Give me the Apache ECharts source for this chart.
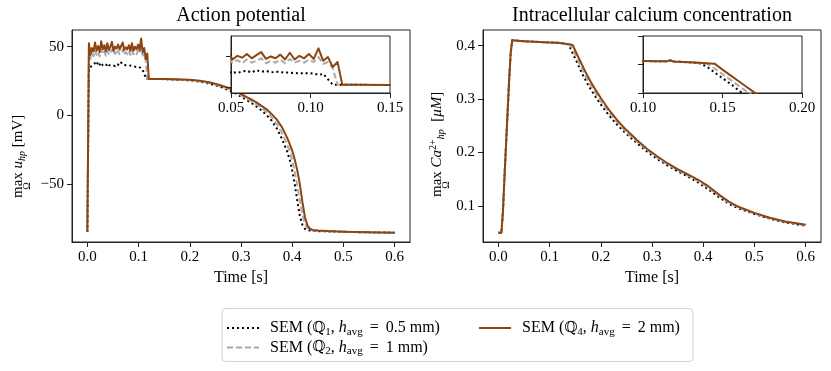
<!DOCTYPE html>
<html><head><meta charset="utf-8">
<script src="https://cdn.jsdelivr.net/npm/echarts@6/dist/echarts.min.js"></script>
<style>html,body{margin:0;padding:0;background:#fff}#c{width:831px;height:371px}</style>
</head><body><div id="c"></div>
<script>
// ---------------- DATA ----------------
const apTime = [0,0.003,0.006,0.009,0.012,0.015,0.018,0.021,0.024,0.027,0.030,0.033,0.036,0.039,0.042,0.045,0.048,0.051,0.054,0.057,0.060,0.063,0.066,0.069,0.072,0.075,0.078,0.081,0.084,0.087,0.090,0.093,0.096,0.099,0.102,0.105,0.108,0.111,0.114,0.117,0.120,
  0.13,0.15,0.17,0.20,0.22,0.24,0.26,0.27,0.28,0.29,0.30,0.31,0.32,0.33,0.34,0.35,0.36,0.37,0.38,0.39,0.395,0.40,0.405,0.41,0.415,0.42,0.425,0.43,0.435,0.44,0.45,0.47,0.50,0.55,0.60];
const apQ1 = [-84.5,33,35,36.5,35.5,38,36.5,39,37,38.5,36.5,37.5,36,38,36.5,37.5,36.5,37,36,37.5,38,36.5,38.5,37,38,36.5,37.5,36.5,37,36,36.5,35.5,36.5,35.5,36,34.5,35.5,31,26.6,26.6,26.6,
  26.6,26.4,26.1,25.5,24.6,23.0,20.8,19.4,17.8,15.9,13.7,11.5,9.2,6.6,3.8,0.3,-3.8,-9.5,-17,-26,-32,-40,-50,-62,-73,-79.5,-82.3,-83.2,-83.5,-83.7,-83.9,-84.1,-84.4,-84.8,-85.0];
const apQ2 = [-84.5,48,41,45,43,47.5,44,46,43,48,44.5,46.5,43.5,47,44,46,48,44.5,46.5,44,47,44.5,46,48,44,46,44.5,47,44,47.5,44.5,46,44.5,47,45,49,43.5,45,40,26.6,26.6,
  26.6,26.45,26.2,25.7,24.9,23.5,21.4,20.1,18.6,16.9,14.8,12.5,10.5,8.1,5.4,2.4,-1.4,-6.2,-12.7,-21,-26,-32.5,-41,-51,-62,-72,-78.5,-81.8,-82.9,-83.4,-83.7,-84.0,-84.4,-84.8,-85.0];
const apQ4 = [-84.5,52.5,44,49,46.5,53,47,50.5,46,54,48,51,46.5,52.5,47.5,50,53.5,47,50,48.5,51.5,48,50.5,53,47.5,49.5,48,51,47,52.5,47,50,48,51.5,47.5,56,46,49,41,45,26.6,
  26.6,26.5,26.3,25.9,25.2,24.0,22.0,20.8,19.4,17.8,15.8,13.5,11.8,9.6,7.0,4.5,1.0,-3.0,-8.5,-16,-20.5,-25.5,-32,-40,-50,-63,-74,-80,-82.2,-83.0,-83.4,-83.9,-84.3,-84.7,-85.0];

const caTime = [0,0.006,0.009,0.012,0.015,0.018,0.021,0.024,0.027,0.03,0.05,0.07,0.09,0.11,0.115,0.117,0.119,0.125,0.13,0.135,0.14,0.145,0.15,0.155,0.16,0.165,0.17,0.175,0.18,0.19,0.20,0.21,0.22,0.23,0.24,0.25,0.27,0.29,0.31,0.33,0.35,0.37,0.39,0.41,0.43,0.45,0.47,0.50,0.53,0.56,0.60];
const caQ1 = [0.05,0.05,0.09,0.155,0.215,0.275,0.335,0.385,0.41,0.4095,0.4085,0.4075,0.4065,0.4057,0.4055,0.4072,0.4052,0.4045,0.4036,
  0.4028,0.3965,0.386,0.376,0.366,0.355,0.345,0.336,0.327,0.319,0.304,0.290,0.277,0.265,0.254,0.244,0.235,0.218,0.202,0.188,0.176,0.165,0.155,0.144,0.131,0.117,0.104,0.095,0.085,0.076,0.069,0.063];
const caQ2 = [0.05,0.05,0.09,0.155,0.215,0.275,0.335,0.385,0.41,0.4095,0.4085,0.4075,0.4065,0.4057,0.4055,0.4072,0.4052,0.4045,0.4038,0.4030,
  0.4020,0.393,0.383,0.373,0.363,0.353,0.3435,0.335,0.326,0.311,0.296,0.283,0.270,0.259,0.248,0.238,0.221,0.205,0.191,0.178,0.167,0.157,0.147,0.134,0.120,0.106,0.097,0.086,0.077,0.070,0.064];
const caQ4 = [0.05,0.05,0.09,0.155,0.215,0.275,0.335,0.385,0.41,0.4095,0.4085,0.4075,0.4065,0.4057,0.4055,0.4075,0.4052,0.4045,0.4038,0.4030,
  0.4022,0.4015,0.391,0.381,0.371,0.361,0.351,0.342,0.333,0.317,0.302,0.288,0.275,0.263,0.252,0.242,0.224,0.207,0.193,0.180,0.169,0.159,0.149,0.137,0.122,0.108,0.098,0.087,0.078,0.071,0.065];

const xTicks = [0,0.1,0.2,0.3,0.4,0.5,0.6];
const apTicks = [-50,0,50];
const caTicks = [0.1,0.2,0.3,0.4];
const apInsetX = [0.05,0.10,0.15];
const apInsetY = [25,50];
const caInsetX = [0.10,0.15,0.20];
const caInsetY = [0.35,0.40,0.45];

// ---------------- STYLE ----------------
const FONT = "'Liberation Serif','DejaVu Serif',serif";
const INK = '#222';
const styles = {
  Q1: {color:'#000000', type:[2,3], width:2},
  Q2: {color:'#aaaaaa', type:[6,3], width:2},
  Q4: {color:'#8b4513', type:'solid', width:2}
};
function mk(name, xs, ys, ai, z){
  return {type:'line', name, xAxisIndex:ai, yAxisIndex:ai, data: xs.map((t,i)=>[t, ys[i]]),
    symbol:'none', showSymbol:false, z, silent:true, animation:false,
    lineStyle:{color:styles[name].color, type:styles[name].type, width:styles[name].width, join:'round'},
    itemStyle:{color:styles[name].color}, emphasis:{disabled:true}};
}
const tick = {show:true, length:5, lineStyle:{color:INK, width:1}};
const lbl = {fontFamily:FONT, fontSize:15, color:'#000'};
function axisX(gi, min, max, ticks, fmt, name, z){
  const a = {type:'value', gridIndex:gi, min, max, position:'bottom', z,
    axisLine:{show:true, onZero:false, lineStyle:{color:INK, width:1}}, splitLine:{show:false},
    axisTick:Object.assign({customValues:ticks}, tick),
    axisLabel:Object.assign({customValues:ticks, formatter:fmt, margin:8}, lbl)};
  if (name){ a.name = name; a.nameLocation='middle'; a.nameGap=27; a.nameTextStyle=Object.assign({}, lbl, {fontSize:16}); }
  return a;
}
function axisY(gi, min, max, ticks, fmt, z){
  return {type:'value', gridIndex:gi, min, max, position:'left', z,
    axisLine:{show:true, onZero:false, lineStyle:{color:INK, width:1}}, splitLine:{show:false},
    axisTick:Object.assign({customValues:ticks}, tick),
    axisLabel:fmt ? Object.assign({customValues:ticks, formatter:fmt, margin:8}, lbl) : {show:false}};
}
const gridBase = {show:true, borderColor:INK, borderWidth:1, containLabel:false, outerBoundsMode:'none'};
const legendLabels = {
  Q1:'{g| }{t|SEM (}{b|ℚ}{sub|1}{t|, }{i|h}{sub|avg}{e| = }{t|0.5 mm)}',
  Q2:'{g| }{t|SEM (}{b|ℚ}{sub|2}{t|, }{i|h}{sub|avg}{e| = }{t|1 mm)}',
  Q4:'{g| }{t|SEM (}{b|ℚ}{sub|4}{t|, }{i|h}{sub|avg}{e| = }{t|2 mm)}'
};
const legendRich = {
  g:{width:6, fontSize:16, lineHeight:19},
  t:{fontFamily:FONT, fontSize:16, lineHeight:19, color:'#000'},
  e:{fontFamily:FONT, fontSize:16, lineHeight:19, color:'#000', padding:[0,3,0,3]},
  i:{fontFamily:FONT, fontStyle:'italic', fontSize:16, lineHeight:19, color:'#000'},
  b:{fontFamily:"'DejaVu Serif','DejaVu Sans'", fontSize:15, lineHeight:19, color:'#000'},
  sub:{fontFamily:FONT, fontSize:11, lineHeight:11, verticalAlign:'bottom', color:'#000'}
};
function legendCfg(names, left){
  return {data:names, orient:'vertical', left, top:320, padding:0, itemWidth:32, itemHeight:12, itemGap:2,
    selectedMode:false, z:5, formatter:n=>legendLabels[n],
    itemStyle:{color:'rgba(0,0,0,0)', borderWidth:0, opacity:0},
    textStyle:{fontFamily:FONT, fontSize:16, color:'#000', rich:legendRich}};
}
const yRich = {
  t:{fontFamily:FONT, fontSize:15, lineHeight:18, fill:'#000'},
  i:{fontFamily:FONT, fontStyle:'italic', fontSize:15, lineHeight:18, fill:'#000'},
  s:{fontFamily:FONT, fontStyle:'italic', fontSize:10, lineHeight:10, verticalAlign:'bottom', fill:'#000'},
  p:{fontFamily:FONT, fontSize:10, lineHeight:10, verticalAlign:'top', fill:'#000'}
};

const option = {
  animation:false,
  backgroundColor:'#fff',
  grid:[
    Object.assign({left:72, top:30, width:338, height:212, z:2}, gridBase),
    Object.assign({left:483, top:30, width:338, height:212, z:2}, gridBase),
    Object.assign({left:231, top:36, width:159, height:57, z:6, backgroundColor:'#fff'}, gridBase),
    Object.assign({left:643, top:36, width:159, height:57, z:6, backgroundColor:'#fff'}, gridBase)
  ],
  xAxis:[
    axisX(0, -0.03, 0.63, xTicks, v=>v.toFixed(1), 'Time [s]', 2),
    axisX(1, -0.03, 0.63, xTicks, v=>v.toFixed(1), 'Time [s]', 2),
    axisX(2, 0.05, 0.15, apInsetX, v=>v.toFixed(2), null, 7),
    axisX(3, 0.10, 0.20, caInsetX, v=>v.toFixed(2), null, 7)
  ],
  yAxis:[
    axisY(0, -91.8, 62.1, apTicks, v=>(v<0?'\u2212'+Math.abs(v):String(v)), 2),
    axisY(1, 0.0325, 0.4294, caTicks, v=>v.toFixed(1), 2),
    axisY(2, 20, 66, apInsetY, null, 7),
    axisY(3, 0.35, 0.45, caInsetY, null, 7)
  ],
  legend:[ legendCfg(['Q1','Q2'], 226), legendCfg(['Q4'], 478) ],
  series:[
    mk('Q1', apTime, apQ1, 0, 1), mk('Q2', apTime, apQ2, 0, 1), mk('Q4', apTime, apQ4, 0, 1),
    mk('Q1', caTime, caQ1, 1, 1), mk('Q2', caTime, caQ2, 1, 1), mk('Q4', caTime, caQ4, 1, 1),
    mk('Q1', apTime, apQ1, 2, 8), mk('Q2', apTime, apQ2, 2, 8), mk('Q4', apTime, apQ4, 2, 8),
    mk('Q1', caTime, caQ1, 3, 8), mk('Q2', caTime, caQ2, 3, 8), mk('Q4', caTime, caQ4, 3, 8)
  ],
  graphic:[
    {type:'rect', z:1, shape:{x:222, y:308.5, width:471, height:53, r:4}, style:{fill:'#fff', stroke:'#d0d0d0', lineWidth:1}},
    {type:'text', x:241, y:16, style:{text:'Action potential', font:'20px '+FONT, fill:'#000', align:'center', verticalAlign:'middle'}},
    {type:'text', x:652, y:16, style:{text:'Intracellular calcium concentration', font:'20px '+FONT, fill:'#000', align:'center', verticalAlign:'middle'}},
    {type:'group', x:18, y:198, rotation:Math.PI/2, children:[
      {type:'text', x:0, y:0, style:{text:'{t|max }{i|u}{s|hp}{t| [mV]}', rich:yRich, align:'left', verticalAlign:'middle'}},
      {type:'text', x:12, y:9, style:{text:'\u03A9', font:'10px '+FONT, fill:'#000', align:'center', verticalAlign:'middle'}}
    ]},
    {type:'group', x:437, y:197, rotation:Math.PI/2, children:[
      {type:'text', x:0, y:0, style:{text:'{t|max }{i|Ca}{p|2+}{s|hp}{t|  [}{i|\u03BCM}{t|]}', rich:yRich, align:'left', verticalAlign:'middle'}},
      {type:'text', x:12, y:9, style:{text:'\u03A9', font:'10px '+FONT, fill:'#000', align:'center', verticalAlign:'middle'}}
    ]}
  ]
};
const chart = echarts.init(document.getElementById('c'), null, {renderer:'canvas'});
chart.setOption(option);
</script>
</body></html>
